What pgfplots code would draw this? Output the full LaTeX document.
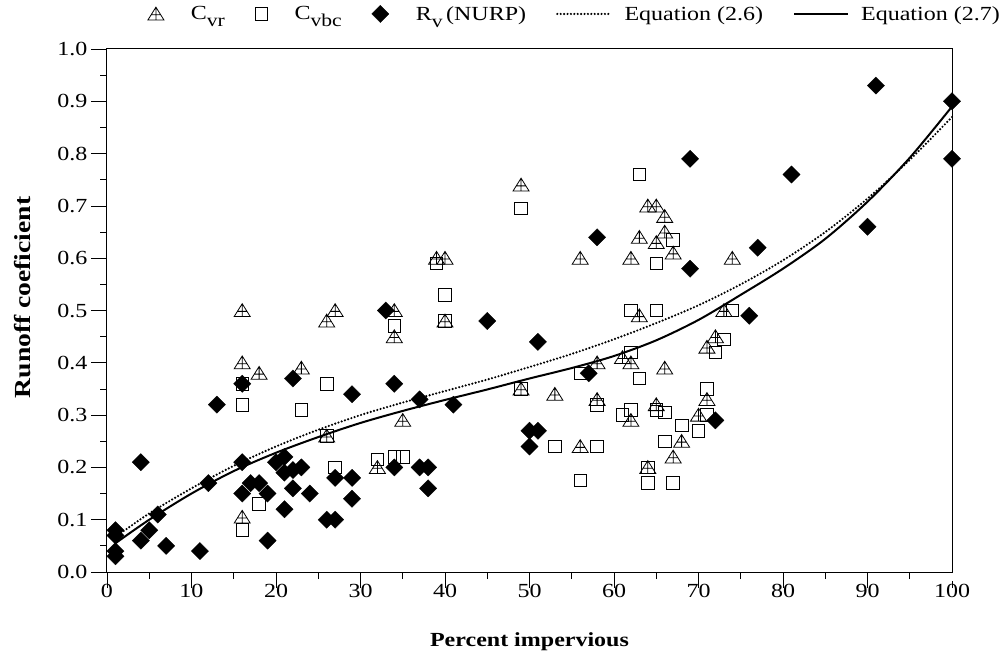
\documentclass[border=0pt]{standalone}
\usepackage{fontspec}
\setmainfont[FakeStretch=1.2]{Liberation Serif}
\usepackage{pgfplots}
\pgfplotsset{compat=1.18}
\pgfdeclareplotmark{tricross}{%
  \pgfpathmoveto{\pgfqpoint{0pt}{0.85\pgfplotmarksize}}%
  \pgfpathlineto{\pgfqpoint{-\pgfplotmarksize}{-0.75\pgfplotmarksize}}%
  \pgfpathlineto{\pgfqpoint{\pgfplotmarksize}{-0.75\pgfplotmarksize}}%
  \pgfpathclose
  \pgfpathmoveto{\pgfqpoint{0pt}{0.85\pgfplotmarksize}}%
  \pgfpathlineto{\pgfqpoint{0pt}{-0.75\pgfplotmarksize}}%
  \pgfpathmoveto{\pgfqpoint{-0.6\pgfplotmarksize}{-0.11\pgfplotmarksize}}%
  \pgfpathlineto{\pgfqpoint{0.6\pgfplotmarksize}{-0.11\pgfplotmarksize}}%
  \pgfusepathqstroke
}
\newcommand{\sub}[1]{\raisebox{-7pt}{\fontsize{18}{20}\selectfont #1}}
\begin{document}
\begin{tikzpicture}
\begin{axis}[
  scale only axis, width=845pt, height=523pt,
  xmin=0, xmax=100, ymin=0, ymax=1,
  clip=false,
  xtick pos=bottom, ytick pos=left,
  xtick={0,10,20,30,40,50,60,70,80,90,100}, minor x tick num=1,
  ytick={0,0.1,0.2,0.3,0.4,0.5,0.6,0.7,0.8,0.9,1.0}, minor y tick num=1,
  tick align=outside, major tick length=16pt, minor tick length=7pt,
  major x tick style={shorten >=9pt},
  tick style={black, line width=0.8pt},
  axis line style={black, line width=1pt},
  /pgf/number format/assume math mode=true,
  tick label style={font=\fontsize{20}{24}\selectfont},
  x tick label style={yshift=7pt},
  y tick label style={/pgf/number format/.cd, fixed, fixed zerofill, precision=1, /tikz/.cd},
  xlabel={\bfseries Percent impervious},
  ylabel={\bfseries Runoff coeficient},
  xlabel style={font=\fontsize{20}{24}\selectfont, at={(axis description cs:0.5,-0.115)}, anchor=north, inner sep=0pt},
  ylabel style={font=\fontsize{23}{27}\selectfont, at={(axis description cs:-0.09,0.525)}, anchor=south, inner sep=0pt},
  legend columns=5,
  legend style={at={(1.071,1.067)}, anchor=east, draw=none, fill=none,
    font=\fontsize{20}{24}\selectfont, inner sep=0pt,
    nodes={inner xsep=12pt, inner ysep=2pt},
    /tikz/every even column/.append style={column sep=18pt}},
  legend cell align=left,
  lineleg/.style={legend image code/.code={\draw[##1] (0pt,0pt) -- (54pt,0pt);}},
]
% C_vr (triangles)
\addplot[only marks, mark=tricross, mark size=8pt, mark options={black, line width=0.8pt}] coordinates {
(16,0.50)(16,0.40)(16,0.105)(18,0.38)(23,0.39)(26,0.48)(26,0.26)(27,0.50)(32,0.20)(34,0.50)(34,0.45)(35,0.29)
(39,0.60)(40,0.60)(40,0.48)(49,0.74)(49,0.35)(53,0.34)(56,0.60)(56,0.24)(58,0.40)(58,0.33)(61,0.41)(62,0.60)
(62,0.40)(62,0.29)(63,0.64)(63,0.49)(64,0.70)(64,0.20)(65,0.70)(65,0.63)(65,0.32)(66,0.68)(66,0.65)(66,0.39)
(67,0.61)(67,0.22)(68,0.25)(70,0.30)(71,0.43)(71,0.33)(72,0.45)(73,0.50)(74,0.60)
};
\addlegendentry{\hspace{15pt}C\sub{vr}}
% C_vbc (squares)
\addplot[only marks, mark=square, mark size=6.3pt, mark options={black, line width=0.8pt}] coordinates {
(16,0.36)(16,0.32)(16,0.08)(18,0.13)(23,0.31)(26,0.36)(26,0.26)(27,0.20)(32,0.215)(34,0.47)(34,0.22)(35,0.22)
(39,0.59)(40,0.53)(40,0.48)(49,0.695)(49,0.35)(53,0.24)(56,0.38)(56,0.175)(58,0.32)(58,0.24)(61,0.30)(62,0.50)
(62,0.42)(62,0.31)(63,0.76)(63,0.37)(64,0.20)(64,0.17)(65,0.59)(65,0.50)(65,0.31)(66,0.305)(66,0.25)(67,0.635)
(67,0.17)(68,0.28)(70,0.27)(71,0.35)(71,0.30)(72,0.42)(73,0.445)(74,0.50)
};
\addlegendentry{\hspace{15pt}C\sub{vbc}}
% R_v NURP (diamonds)
\addplot[only marks, mark=square*, mark size=6.1pt, mark options={black, fill=black, rotate=45, line width=0.3pt}] coordinates {
(1,0.08)(1,0.07)(1,0.04)(1,0.03)(4,0.21)(4,0.06)(5,0.08)(6,0.11)(7,0.05)(11,0.04)(12,0.17)(13,0.32)
(16,0.36)(16,0.21)(16,0.15)(17,0.17)(18,0.17)(19,0.15)(19,0.06)(20,0.21)(21,0.22)(21,0.19)(21,0.12)(22,0.37)
(22,0.195)(22,0.16)(23,0.20)(24,0.15)(26,0.10)(27,0.10)(27,0.18)(29,0.34)(29,0.18)(29,0.14)(33,0.50)(34,0.36)
(34,0.20)(37,0.33)(37,0.20)(38,0.20)(38,0.16)(41,0.32)(45,0.48)(50,0.27)(50,0.24)(51,0.44)(51,0.27)(57,0.38)
(58,0.64)(69,0.79)(69,0.58)(72,0.29)(76,0.49)(77,0.62)(81,0.76)(90,0.66)(91,0.93)(100,0.90)(100,0.79)
};
\addlegendentry{\hspace{15pt}R\sub{v}\,(NURP)}
% Equation (2.6) dotted
\addplot[black, line width=2.4pt, line cap=round, dash pattern=on 0pt off 3.4pt, smooth, no marks, lineleg] coordinates {
(1,0.067)(5,0.112)(10,0.160)(15,0.203)(20,0.240)(25,0.272)(30,0.300)(35,0.324)(40,0.346)(45,0.368)
(50,0.392)(55,0.417)(60,0.445)(65,0.476)(70,0.510)(75,0.550)(80,0.596)(85,0.650)(90,0.714)(95,0.788)(100,0.87)
};
\addlegendentry{Equation (2.6)}
% Equation (2.7) solid
\addplot[black, line width=2pt, smooth, no marks, lineleg] coordinates {
(1,0.055)(5,0.100)(10,0.150)(15,0.193)(20,0.228)(25,0.258)(30,0.285)(35,0.308)(40,0.329)(45,0.349)
(50,0.370)(55,0.390)(60,0.413)(65,0.443)(70,0.482)(75,0.530)(80,0.580)(85,0.637)(90,0.708)(95,0.792)(100,0.89)
};
\addlegendentry{Equation (2.7)}
\coordinate (BL) at (rel axis cs:0,0);
\coordinate (TR) at (rel axis cs:1,1);
\end{axis}
\pgfresetboundingbox
\path[use as bounding box] ([shift={(-107pt,-85pt)}]BL) rectangle ([shift={(54pt,49pt)}]TR);
\end{tikzpicture}
\end{document}
